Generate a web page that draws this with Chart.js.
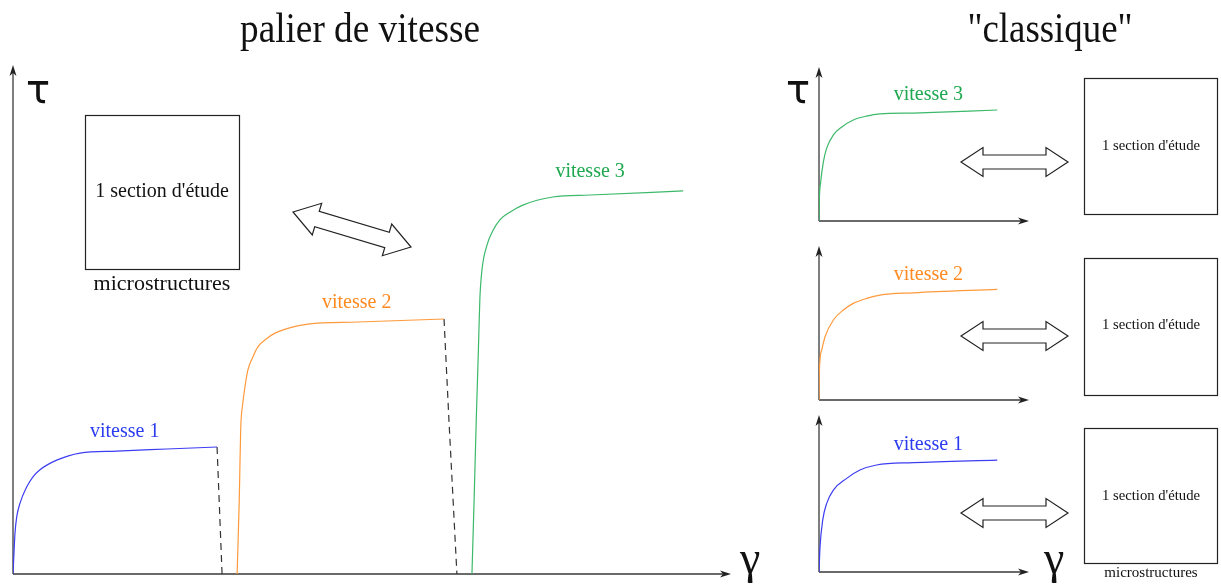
<!DOCTYPE html>
<html>
<head>
<meta charset="utf-8">
<script src="https://cdn.jsdelivr.net/npm/chart.js@4.4.1/dist/chart.umd.min.js"></script>
<style>
body { margin: 0; background: #fff; }
#wrap { position: relative; width: 1221px; height: 585px; }
canvas { position: absolute; }
</style>
</head>
<body>
<div id="wrap">
  <canvas id="main" width="1221" height="585" style="left:0;top:0"></canvas>
  <canvas id="small3" width="260" height="180" style="left:780px;top:50px"></canvas>
  <canvas id="small2" width="260" height="180" style="left:780px;top:230px"></canvas>
  <canvas id="small1" width="260" height="180" style="left:780px;top:405px"></canvas>
</div>
<script>
// main chart : "palier de vitesse" (gamma / tau in arbitrary units 0..100)
const gamma1 = [0, 0.14, 0.28, 0.52, 0.98, 1.91, 2.79, 3.77, 6.1, 9.36, 14.5, 21.5, 28.5];
const tau1   = [0, 4.2, 8.1, 11.3, 14.0, 17.2, 19.2, 20.6, 22.5, 23.9, 24.3, 24.7, 25.1];
const gamma2 = [31.3, 31.6, 31.8, 32.1, 32.4, 32.8, 33.5, 34.2, 35.5, 36.6, 39.0, 41.2, 48.2, 60.2];
const tau2   = [0, 14.6, 28.5, 33.8, 37.0, 40.3, 42.9, 44.9, 46.6, 47.6, 48.8, 49.4, 49.8, 50.4];
const gamma3 = [64.1, 64.4, 64.7, 65.0, 65.2, 65.5, 66.2, 67.0, 68.0, 69.4, 71.2, 75.4, 80.6, 93.6];
const tau3   = [0, 14.6, 30.4, 44.3, 54.2, 60.1, 65.0, 67.8, 70.0, 71.5, 72.9, 74.5, 74.9, 75.7];
// dashed drops between the speed steps
const dropGamma1 = [28.5, 29.2];
const dropTau1   = [25.1, 0];
const dropGamma2 = [60.2, 60.9, 62.0];
const dropTau2   = [50.4, 30.0, 0];

// small "classique" charts
const smallGamma3 = [0, 0.14, 0.82, 2.1, 3.7, 6.9, 11.0, 16.5, 22.9, 29.3, 45.2, 85.7];
const smallTau3   = [0, 12.6, 25.8, 39.1, 48.3, 57.0, 62.3, 66.9, 69.5, 70.9, 71.5, 73.5];
const smallGamma2 = [0, 0.14, 1.3, 2.9, 6.9, 11.7, 16.5, 22.9, 29.3, 45.3, 85.7];
const smallTau2   = [0, 17.9, 33.1, 41.9, 53.0, 59.6, 64.0, 67.3, 69.5, 71.0, 73.3];
const smallGamma1 = [0, 0.5, 1.8, 3.7, 6.9, 13.3, 19.7, 27.7, 45.3, 85.7];
const smallTau1   = [0, 16.4, 33.8, 44.6, 53.2, 60.8, 66.2, 69.5, 71.0, 72.7];

const speedLabels = ['vitesse 1', 'vitesse 2', 'vitesse 3'];

const lineColors  = ['#3d3df2', '#ff9a3c', '#3cb96a'];
const textColors  = ['#2b3cf0', '#ff8a1f', '#1ea84f'];
const SERIF = '"Liberation Serif", "Times New Roman", serif';

function pts(xs, ys) {
    return xs.map((x, i) => ({x: x, y: ys[i]}));
}

function curve(xs, ys, color) {
    return {
        data: pts(xs, ys),
        borderColor: color,
        borderWidth: 1.2,
        pointRadius: 0,
        cubicInterpolationMode: 'monotone',
        fill: false
    };
}

function dashed(xs, ys) {
    return {
        data: pts(xs, ys),
        borderColor: '#333',
        borderWidth: 1.2,
        borderDash: [7, 5],
        pointRadius: 0,
        tension: 0,
        fill: false
    };
}

function arrowHead(ctx, x, y, dir) {
    // dir: 'up' or 'right'
    ctx.beginPath();
    if (dir === 'up') {
        ctx.moveTo(x, y);
        ctx.lineTo(x - 3.5, y + 11);
        ctx.lineTo(x, y + 8);
        ctx.lineTo(x + 3.5, y + 11);
    } else {
        ctx.moveTo(x, y);
        ctx.lineTo(x - 11, y - 3.5);
        ctx.lineTo(x - 8, y);
        ctx.lineTo(x - 11, y + 3.5);
    }
    ctx.closePath();
    ctx.fill();
}

// draws the two arrowed axes and the speed labels
function sketchPlugin(labelSpecs) {
    return {
        id: 'sketch',
        beforeDatasetsDraw(chart) {
            const {ctx, chartArea: a} = chart;
            ctx.save();
            ctx.strokeStyle = '#3a3a3a';
            ctx.fillStyle = '#222';
            ctx.lineWidth = 1.3;
            ctx.beginPath();
            ctx.moveTo(a.left, a.bottom);
            ctx.lineTo(a.left, a.top + 5);
            ctx.moveTo(a.left, a.bottom);
            ctx.lineTo(a.right - 6, a.bottom);
            ctx.stroke();
            arrowHead(ctx, a.left, a.top - 3, 'up');
            arrowHead(ctx, a.right + 2, a.bottom, 'right');
            ctx.restore();
        },
        afterDatasetsDraw(chart) {
            const ctx = chart.ctx;
            const sx = chart.scales.x, sy = chart.scales.y;
            ctx.save();
            ctx.textAlign = 'center';
            ctx.textBaseline = 'middle';
            ctx.font = '20px ' + SERIF;
            labelSpecs.forEach(l => {
                ctx.fillStyle = l.color;
                ctx.fillText(l.text, sx.getPixelForValue(l.x), sy.getPixelForValue(l.y));
            });
            ctx.restore();
        }
    };
}

function dblArrow(ctx, x1, y1, x2, y2, sh, hh, hl) {
    const dx = x2 - x1, dy = y2 - y1, L = Math.hypot(dx, dy);
    const ux = dx / L, uy = dy / L, nx = -uy, ny = ux;
    const P = (t, s) => [x1 + ux * t + nx * s, y1 + uy * t + ny * s];
    const poly = [P(0, 0), P(hl, -hh), P(hl, -sh), P(L - hl, -sh), P(L - hl, -hh),
                  P(L, 0), P(L - hl, hh), P(L - hl, sh), P(hl, sh), P(hl, hh)];
    ctx.beginPath();
    poly.forEach((p, i) => i ? ctx.lineTo(p[0], p[1]) : ctx.moveTo(p[0], p[1]));
    ctx.closePath();
    ctx.fillStyle = '#fff';
    ctx.fill();
    ctx.stroke();
}

function squeezed(ctx, text, cx, baseline, size, width) {
    ctx.save();
    ctx.font = size + 'px ' + SERIF;
    const w = ctx.measureText(text).width;
    ctx.translate(cx, baseline);
    ctx.scale(width / w, 1);
    ctx.textAlign = 'center';
    ctx.fillText(text, 0, 0);
    ctx.restore();
}

// titles, boxes, arrows and the big greek letters of the page
const pagePlugin = {
    id: 'page',
    afterDraw(chart) {
        const ctx = chart.ctx;
        ctx.save();
        ctx.fillStyle = '#111';
        squeezed(ctx, 'palier de vitesse', 360, 42, 42, 240);
        squeezed(ctx, '"classique"', 1050, 42, 42, 165);

        ctx.textAlign = 'left';
        ctx.textBaseline = 'alphabetic';
        ctx.font = '40px "DejaVu Sans", sans-serif';
        ctx.fillText('τ', 26, 103);
        ctx.fillText('τ', 786, 103);
        ctx.font = '46px ' + SERIF;
        ctx.fillText('γ', 740, 573);
        ctx.fillText('γ', 1044, 573);

        ctx.strokeStyle = '#222';
        ctx.lineWidth = 1.2;
        ctx.strokeRect(85.5, 115.5, 154, 154);
        ctx.textAlign = 'center';
        ctx.textBaseline = 'middle';
        ctx.font = '20px ' + SERIF;
        ctx.fillText("1 section d'étude", 162, 192);
        ctx.font = '22px ' + SERIF;
        ctx.fillText('microstructures', 162, 284);

        ctx.lineWidth = 1.2;
        dblArrow(ctx, 293, 212, 411, 247, 8, 16.5, 25);

        const boxes = [[78.5, 136, 146], [258.5, 137, 325], [428.5, 135, 496]];
        boxes.forEach(b => {
            ctx.strokeRect(1084.5, b[0], 133, b[1]);
            ctx.fillStyle = '#111';
            ctx.font = '14.7px ' + SERIF;
            ctx.fillText("1 section d'étude", 1151, b[2]);
        });
        ctx.font = '15px ' + SERIF;
        ctx.fillText('microstructures', 1151, 573);

        [162, 336, 513].forEach(y => dblArrow(ctx, 961, y, 1068, y, 7, 14.5, 22));
        ctx.restore();
    }
};

function baseOptions(padding) {
    return {
        responsive: false,
        animation: false,
        layout: { padding: padding },
        plugins: { legend: { display: false }, tooltip: { enabled: false } },
        scales: {
            x: { type: 'linear', min: 0, max: 100, display: false },
            y: { type: 'linear', min: 0, max: 100, display: false }
        }
    };
}

new Chart(document.getElementById('main'), {
    type: 'line',
    data: {
        datasets: [
            curve(gamma1, tau1, lineColors[0]),
            curve(gamma2, tau2, lineColors[1]),
            curve(gamma3, tau3, lineColors[2]),
            dashed(dropGamma1, dropTau1),
            dashed(dropGamma2, dropTau2)
        ]
    },
    options: baseOptions({left: 13, right: 492, top: 68, bottom: 11}),
    plugins: [sketchPlugin([
        {text: speedLabels[0], x: 15.6, y: 28.1, color: textColors[0]},
        {text: speedLabels[1], x: 48.0, y: 53.6, color: textColors[1]},
        {text: speedLabels[2], x: 80.6, y: 79.4, color: textColors[2]}
    ]), pagePlugin]
});

const smallCharts = [
    {id: 'small3', xs: smallGamma3, ys: smallTau3, k: 2, pad: {left: 39, right: 13, top: 20, bottom: 9}, ly: 83.4},
    {id: 'small2', xs: smallGamma2, ys: smallTau2, k: 1, pad: {left: 39, right: 13, top: 19, bottom: 10}, ly: 82.8},
    {id: 'small1', xs: smallGamma1, ys: smallTau1, k: 0, pad: {left: 39, right: 13, top: 13, bottom: 13}, ly: 82.5}
];

smallCharts.forEach(s => {
    new Chart(document.getElementById(s.id), {
        type: 'line',
        data: { datasets: [curve(s.xs, s.ys, lineColors[s.k])] },
        options: baseOptions(s.pad),
        plugins: [sketchPlugin([
            {text: speedLabels[s.k], x: 52.6, y: s.ly, color: textColors[s.k]}
        ])]
    });
});
</script>
</body>
</html>
